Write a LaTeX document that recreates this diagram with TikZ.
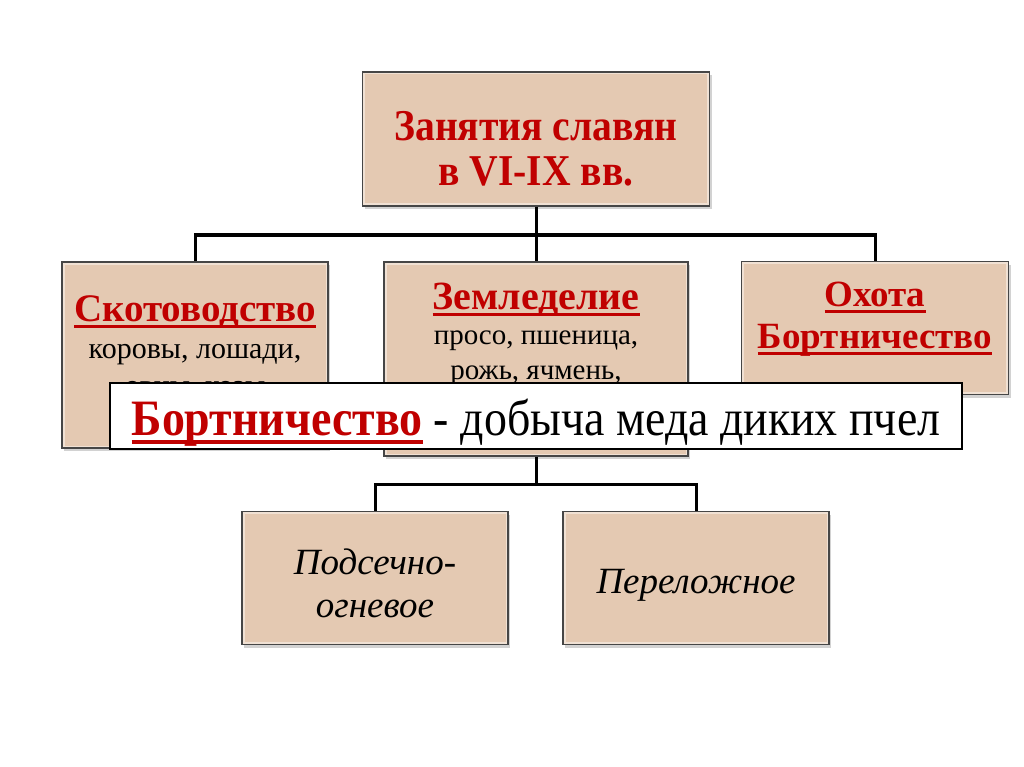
\documentclass[tikz,border=0pt]{standalone}
\usepackage{fontspec}
\setmainfont{Liberation Serif}
\newfontfamily\narrowfont[FakeStretch=0.9]{Liberation Serif}
\usetikzlibrary{shadows}
\definecolor{boxfill}{RGB}{228,201,178}
\definecolor{boxedge}{RGB}{70,70,70}
\definecolor{darkred}{RGB}{192,0,0}
\newcommand{\redul}[1]{\textcolor{darkred}{\setbox0\hbox{#1}\rlap{\rule[-0.17em]{\wd0}{0.08em}}\box0}}
\tikzset{
  box/.style={draw=boxedge, line width=1.2pt, fill=boxfill, inner sep=0pt,
    drop shadow={shadow xshift=2pt, shadow yshift=-3pt, opacity=0.35},
    path picture={\draw[white, line width=5pt, opacity=0.45]
      (path picture bounding box.south west) rectangle (path picture bounding box.north east);}},
  link/.style={draw=black, line width=3pt},
  label/.style={align=center, inner sep=0pt, anchor=north}
}
\begin{document}
\begin{tikzpicture}[x=1pt, y=-1pt]
\useasboundingbox (0,0) rectangle (1024,767);
\fill[white] (0,0) rectangle (1024,767);

% top
\node[box, minimum width=347pt, minimum height=134pt] (top) at (536,139) {};
\node[label, font=\narrowfont\fontsize{44}{45}\selectfont\bfseries, text=darkred] (topT) at (536,111)
  {Занятия славян\\в VI-IX вв.};

% second row
\node[box, minimum width=266pt, minimum height=186pt] (skot) at (195,355) {};
\node[label, font=\fontsize{30}{37}\selectfont] (skotT) at (195,295)
  {{\fontsize{39}{37}\selectfont\bfseries\redul{Скотоводство}}\\коровы, лошади,\\овцы, козы};

\node[box, minimum width=304pt, minimum height=194pt] (zeml) at (536,359) {};
\node[label, font=\fontsize{29}{35}\selectfont] (zemlT) at (536,283)
  {{\fontsize{40}{35}\selectfont\bfseries\redul{Земледелие}}\\просо, пшеница,\\рожь, ячмень,};

\node[box, minimum width=267pt, minimum height=133pt] (okh) at (875,328) {};
\node[label, font=\fontsize{37}{42}\selectfont\bfseries] (okhT) at (875,282)
  {\redul{Охота}\\\redul{Бортничество}};

% third row
\node[box, minimum width=266pt, minimum height=133pt] (pods) at (375,578) {};
\node[label, anchor=center, font=\fontsize{37}{43}\selectfont\itshape] (podsT) at (375,583)
  {Подсечно-\\огневое};

\node[box, minimum width=266pt, minimum height=133pt] (perel) at (696,578) {};
\node[label, anchor=center, font=\fontsize{37}{43}\selectfont\itshape] (perelT) at (696,585)
  {Переложное};

% connectors
\coordinate (bus) at (536,235);
\draw[link] (top.south) -- (bus) -| (skot.north);
\draw[link] (bus) -- (zeml.north);
\draw[link] (bus) -| (okh.north);
\coordinate (bus2) at (536,484);
\draw[link] (zeml.south) -- (bus2) -| (pods.north);
\draw[link] (bus2) -| (perel.north);

% definition
\node[draw=black, line width=2.5pt, fill=white, minimum width=852pt, minimum height=66pt] (def) at (536,416) {};
\node[inner sep=0pt, anchor=base, font=\narrowfont\fontsize{51}{51}\selectfont] (defT) at (536,435)
  {{\bfseries\redul{Бортничество}} - добыча меда диких пчел};
\end{tikzpicture}
\end{document}
